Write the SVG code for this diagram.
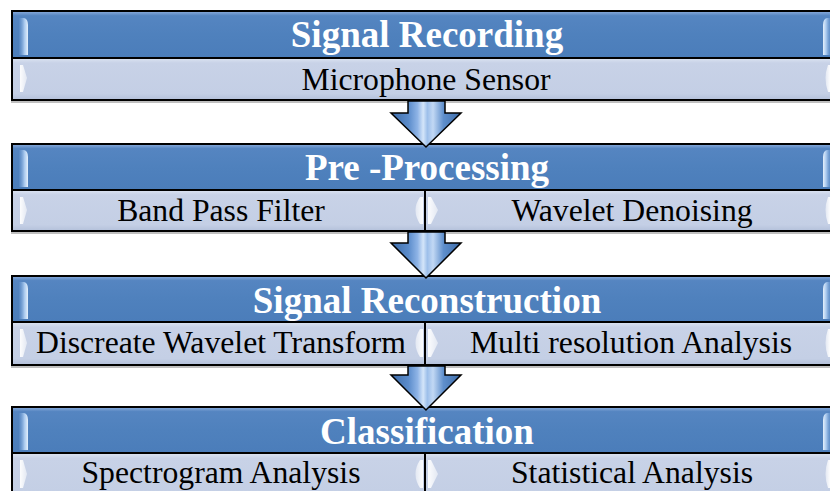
<svg xmlns="http://www.w3.org/2000/svg" width="830" height="491" viewBox="0 0 830 491">
  <defs>
    <linearGradient id="hdrGrad" x1="0" y1="0" x2="0" y2="1">
      <stop offset="0" stop-color="#8DAEDD"/>
      <stop offset="0.1" stop-color="#5585C1"/>
      <stop offset="0.5" stop-color="#4F81BD"/>
      <stop offset="1" stop-color="#4B7DBA"/>
    </linearGradient>
    <linearGradient id="subGrad" x1="0" y1="0" x2="0" y2="1">
      <stop offset="0" stop-color="#DCE4F2"/>
      <stop offset="0.12" stop-color="#C8D2E7"/>
      <stop offset="0.85" stop-color="#C4CFE5"/>
      <stop offset="1" stop-color="#B3C0DA"/>
    </linearGradient>
    <linearGradient id="arrowGrad" x1="0" y1="0" x2="1" y2="0">
      <stop offset="0" stop-color="#3C6BA8"/>
      <stop offset="0.25" stop-color="#5B8CCB"/>
      <stop offset="0.38" stop-color="#8FB4E6"/>
      <stop offset="0.46" stop-color="#D4E5F9"/>
      <stop offset="0.52" stop-color="#9DBFEA"/>
      <stop offset="0.6" stop-color="#C2D8F4"/>
      <stop offset="0.75" stop-color="#5F8FCC"/>
      <stop offset="1" stop-color="#3C6BA8"/>
    </linearGradient>
    <linearGradient id="barL" x1="0" y1="0" x2="1" y2="0">
      <stop offset="0" stop-color="#5F8FCB" stop-opacity="0.4"/>
      <stop offset="0.6" stop-color="#A9C9EE"/>
      <stop offset="1" stop-color="#E4F0FC"/>
    </linearGradient>
    <linearGradient id="barR" x1="1" y1="0" x2="0" y2="0">
      <stop offset="0" stop-color="#5F8FCB" stop-opacity="0.4"/>
      <stop offset="0.6" stop-color="#A9C9EE"/>
      <stop offset="1" stop-color="#E4F0FC"/>
    </linearGradient>
    <linearGradient id="chevL" x1="0" y1="0" x2="1" y2="0">
      <stop offset="0" stop-color="#FFFFFF" stop-opacity="0.95"/>
      <stop offset="1" stop-color="#FFFFFF" stop-opacity="0.5"/>
    </linearGradient>
    <linearGradient id="chevR" x1="1" y1="0" x2="0" y2="0">
      <stop offset="0" stop-color="#FFFFFF" stop-opacity="0.95"/>
      <stop offset="1" stop-color="#FFFFFF" stop-opacity="0.5"/>
    </linearGradient>
  </defs>
  <style>
    .shadow { fill: #8A8A8A; opacity: 0.55; }
    .hdr { fill: url(#hdrGrad); stroke: #000; stroke-width: 2; }
    .sub { fill: url(#subGrad); stroke: #000; stroke-width: 2; }
    .htext { font-family: "Liberation Serif", "Times New Roman", serif; font-weight: bold; font-size: 37px; fill: #FFFFFF; text-anchor: middle; }
    .stext { font-family: "Liberation Serif", "Times New Roman", serif; font-size: 31.7px; fill: #000000; text-anchor: middle; }
    .barL { fill: url(#barL); }
    .barR { fill: url(#barR); }
    .chevL { fill: url(#chevL); }
    .chevR { fill: url(#chevR); }
    .arrow { fill: url(#arrowGrad); stroke: #000; stroke-width: 1.5; stroke-linejoin: miter; }
  </style>
  <rect width="830" height="491" fill="#FFFFFF"/>

  <!-- Stage 1 -->
  <g id="signal-recording">
    <rect class="shadow" x="11" y="13" width="830" height="90"/>
    <rect class="hdr" x="12" y="11" width="830" height="47"/>
    <path class="barL" d="M19,18 L24,18 Q28,19 28,25 L28,55 L19,55 Z"/>
    <path class="barR" d="M831,18 L827,18 Q823,19 823,25 L823,55 L831,55 Z"/>
    <text class="htext" x="427" y="47">Signal Recording</text>
    <g id="microphone-sensor">
      <rect class="sub" x="12" y="58" width="830" height="42"/>
      <path class="chevL" d="M20,65 L23,65 L27,78 L23,92 L20,92 Z"/>
      <path class="chevR" d="M830,65 L828,65 Q823,78 828,92 L830,92 Z"/>
      <text class="stext" x="426" y="90">Microphone Sensor</text>
    </g>
  </g>

  <!-- Stage 2 -->
  <g id="pre-processing">
    <rect class="shadow" x="11" y="146" width="830" height="88"/>
    <rect class="hdr" x="12" y="144" width="830" height="46"/>
    <path class="barL" d="M19,150 L24,150 Q28,151 28,157 L28,187 L19,187 Z"/>
    <path class="barR" d="M831,150 L827,150 Q823,151 823,157 L823,187 L831,187 Z"/>
    <text class="htext" x="427" y="180">Pre -Processing</text>
    <g id="band-pass-filter">
      <rect class="sub" x="12" y="190" width="413" height="41"/>
      <path class="chevL" d="M20,197 L23,197 L27,210 L23,224 L20,224 Z"/>
      <path class="chevR" d="M423,197 L420,197 Q411,210 420,224 L423,224 Z"/>
      <text class="stext" x="221" y="221">Band Pass Filter</text>
    </g>
    <g id="wavelet-denoising">
      <rect class="sub" x="425" y="190" width="417" height="41"/>
      <path class="chevL" d="M428,197 L431,197 L438,210 L431,224 L428,224 Z"/>
      <path class="chevR" d="M830,197 L828,197 Q823,210 828,224 L830,224 Z"/>
      <text class="stext" x="632" y="221">Wavelet Denoising</text>
    </g>
  </g>

  <!-- Stage 3 -->
  <g id="signal-reconstruction">
    <rect class="shadow" x="11" y="278" width="830" height="90"/>
    <rect class="hdr" x="12" y="276" width="830" height="46"/>
    <path class="barL" d="M19,282 L24,282 Q28,283 28,289 L28,319 L19,319 Z"/>
    <path class="barR" d="M831,282 L827,282 Q823,283 823,289 L823,319 L831,319 Z"/>
    <text class="htext" x="427" y="313">Signal Reconstruction</text>
    <g id="discrete-wavelet-transform">
      <rect class="sub" x="12" y="322" width="413" height="43"/>
      <path class="chevL" d="M20,329 L23,329 L27,343 L23,357 L20,357 Z"/>
      <path class="chevR" d="M423,329 L420,329 Q411,343 420,357 L423,357 Z"/>
      <text class="stext" x="221" y="353">Discreate Wavelet Transform</text>
    </g>
    <g id="multi-resolution-analysis">
      <rect class="sub" x="425" y="322" width="417" height="43"/>
      <path class="chevL" d="M428,329 L431,329 L438,343 L431,357 L428,357 Z"/>
      <path class="chevR" d="M830,329 L828,329 Q823,343 828,357 L830,357 Z"/>
      <text class="stext" x="631" y="353">Multi resolution Analysis</text>
    </g>
  </g>

  <!-- Stage 4 -->
  <g id="classification">
    <rect class="shadow" x="11" y="409" width="830" height="90"/>
    <rect class="hdr" x="12" y="407" width="830" height="46"/>
    <path class="barL" d="M19,413 L24,413 Q28,414 28,420 L28,450 L19,450 Z"/>
    <path class="barR" d="M831,413 L827,413 Q823,414 823,420 L823,450 L831,450 Z"/>
    <text class="htext" x="427" y="444">Classification</text>
    <g id="spectrogram-analysis">
      <rect class="sub" x="12" y="453" width="413" height="45"/>
      <path class="chevL" d="M20,460 L23,460 L27,474 L23,488 L20,488 Z"/>
      <path class="chevR" d="M423,460 L420,460 Q411,474 420,488 L423,488 Z"/>
      <text class="stext" x="221" y="483">Spectrogram Analysis</text>
    </g>
    <g id="statistical-analysis">
      <rect class="sub" x="425" y="453" width="417" height="45"/>
      <path class="chevL" d="M428,460 L431,460 L438,474 L431,488 L428,488 Z"/>
      <path class="chevR" d="M830,460 L828,460 Q823,474 828,488 L830,488 Z"/>
      <text class="stext" x="632" y="483">Statistical Analysis</text>
    </g>
  </g>

  <!-- Connectors -->
  <g id="connectors">
    <path class="arrow" d="M408,101 L445,101 L445,113 L461,113 L426,147 L391,113 L408,113 Z"/>
    <path class="arrow" d="M408,232 L445,232 L445,243 L461,243 L426,278 L391,243 L408,243 Z"/>
    <path class="arrow" d="M408,366 L445,366 L445,375 L461,375 L426,410 L391,375 L408,375 Z"/>
  </g>
</svg>
